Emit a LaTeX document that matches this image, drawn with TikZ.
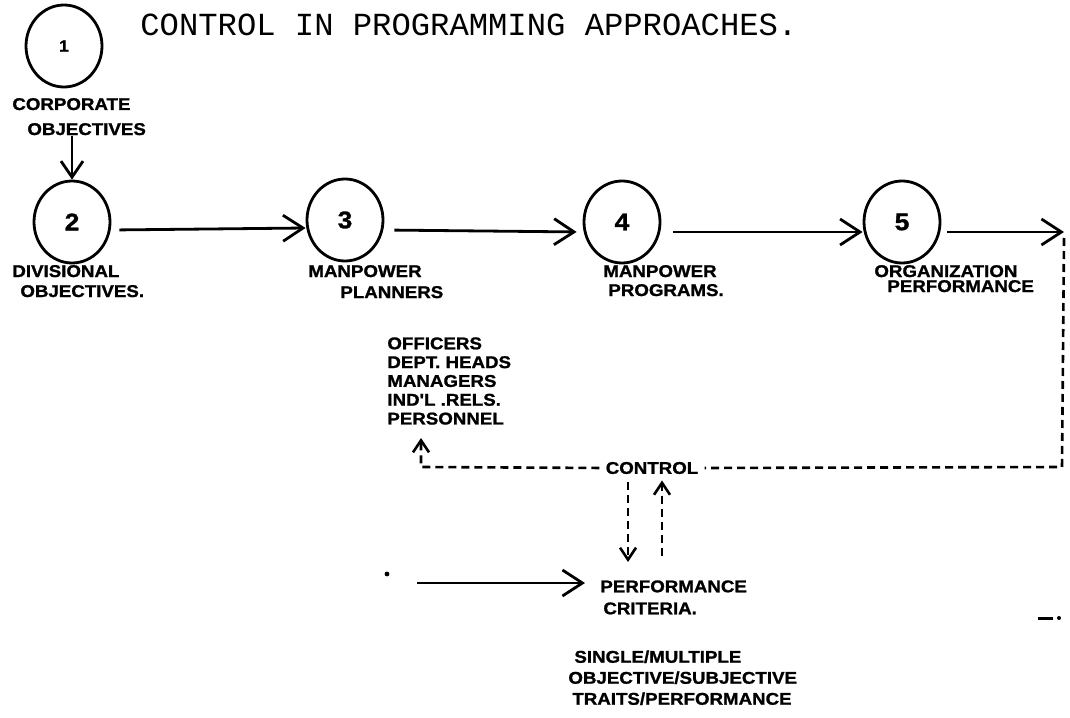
\documentclass[tikz,border=0pt]{standalone}
\usepackage{fontspec}
\newfontfamily\handfont[FakeStretch=1.1,FakeBold=1.2]{Liberation Sans}
\newfontfamily\typefont{Liberation Mono}
\usetikzlibrary{arrows.meta,shapes.geometric,positioning}
\tikzset{
    stage/.style={ellipse, draw, line width=1.4pt, minimum width=38pt, minimum height=41pt, inner sep=0pt, font=\handfont\bfseries\fontsize{12}{12}\selectfont},
    hand/.style={font=\handfont\bfseries\fontsize{8.5}{9.4}\selectfont, inner sep=0pt, align=left},
    handline/.style={hand, anchor=base west},
    flow/.style={-{Straight Barb[length=10pt,width=13pt]}, line width=1.4pt},
    flowsmall/.style={-{Straight Barb[length=8pt,width=11pt]}, line width=1.4pt},
    fbdash/.style={line width=1.3pt, dash pattern=on 4pt off 2.5pt},
    fbtip/.style={-{Straight Barb[length=6pt,width=8pt]}}
}
\begin{document}
\begin{tikzpicture}[x=0.5pt,y=-0.5pt]
\useasboundingbox (0,0) rectangle (1070,717);
% title
\node[anchor=base west, inner sep=0pt, font=\typefont\fontsize{16.1}{17}\selectfont] (title) at (140,36) {CONTROL IN PROGRAMMING APPROACHES.};
% stages
\node[stage, font=\handfont\bfseries\fontsize{8}{8}\selectfont] (c1) at (64,46) {1};
\node[stage] (c2) at (72,222) {2};
\node[stage] (c3) at (345,220) {3};
\node[stage] (c4) at (622,222) {4};
\node[stage] (c5) at (902,222) {5};
% stage labels
\node[handline] (corpA) at (12,110) {CORPORATE};
\node[handline] (corpB) at (27,135) {OBJECTIVES};
\node[handline] (divA) at (12,277) {DIVISIONAL};
\node[handline] (divB) at (20,297) {OBJECTIVES.};
\node[handline] (planA) at (308,277) {MANPOWER};
\node[handline] (planB) at (340,298) {PLANNERS};
\node[handline] (progA) at (603,277) {MANPOWER};
\node[handline] (progB) at (608,296) {PROGRAMS.};
\node[handline] (orgA) at (874,277) {ORGANIZATION};
\node[handline] (orgB) at (887,292) {PERFORMANCE};
% control loop
\node[hand, anchor=north west] (offc) at (387,337) {OFFICERS\\DEPT. HEADS\\MANAGERS\\IND'L .RELS.\\PERSONNEL};
\node[hand] (ctrl) at (652,468) {CONTROL};
\node[hand, anchor=north west, font=\handfont\bfseries\fontsize{8.5}{11}\selectfont] (crit) at (600,580) {PERFORMANCE\\\hspace*{1.5pt}CRITERIA.};
\node[hand, anchor=north west, font=\handfont\bfseries\fontsize{8.5}{10.5}\selectfont] (kinds) at (568,650) {\hspace*{3pt}SINGLE/MULTIPLE\\OBJECTIVE/SUBJECTIVE\\\hspace*{2pt}TRAITS/PERFORMANCE};
\coordinate (outR) at (1064,232);
\coordinate (cornerR) at (1062,467);
\coordinate (cornerL) at (421,467);
\coordinate (offTip) at (421,438);
\coordinate (critIn) at (417,583);
% main flow
\draw[flowsmall] (c2.north |- corpB.south) -- (c2.north);
\draw[flow, shorten <=4pt] ([yshift=-4pt]c2.east) -- ([yshift=-4pt]c3.west);
\draw[flow, shorten <=5pt, shorten >=3pt] ([yshift=-5pt]c3.east) -- ([yshift=-5pt]c4.west);
\draw[flow, shorten <=6pt] ([yshift=-5pt]c4.east) -- ([yshift=-5pt]c5.west);
\draw[flow, shorten <=3pt] ([yshift=-5pt]c5.east) -- (outR);
% feedback
\draw[fbdash, shorten >=3pt] ([yshift=-3pt]outR) -- (cornerR) -- (ctrl.east);
\draw[fbdash, fbtip, shorten <=3pt] (ctrl.west) -- (cornerL) -- (offTip);
\draw[fbdash, fbtip, shorten <=4pt, shorten >=9pt] ([xshift=-12pt]ctrl.south) -- ([xshift=-12pt]ctrl.south |- crit.north);
\draw[fbdash, fbtip, shorten <=12pt, shorten >=3pt] ([xshift=5pt]ctrl.south |- crit.north) -- ([xshift=5pt]ctrl.south);
\draw[flow, shorten >=7.5pt] (critIn) -- (critIn -| crit.west);
% stray marks
\fill (387,574) circle (1.2pt);
\fill (1038,616.5) rectangle (1053,619.5);
\fill (1059,618) circle (1pt);
\end{tikzpicture}
\end{document}
